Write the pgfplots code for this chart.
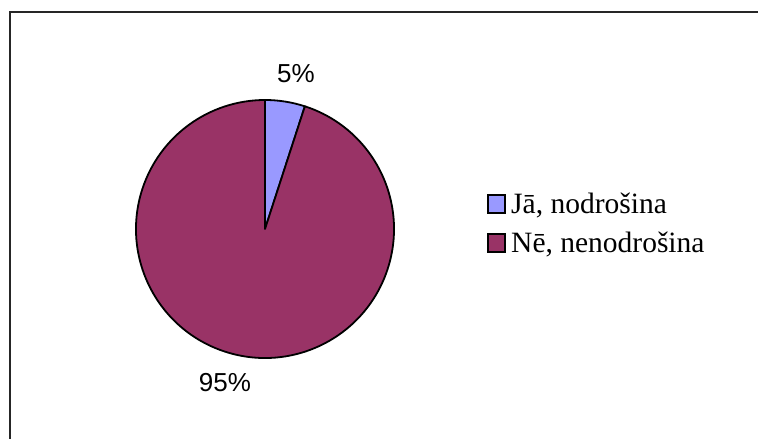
\documentclass[border=0pt]{standalone}
\usepackage{pgfplots}
\usepackage{pgfplotstable}
\pgfplotsset{compat=1.18}
\usepackage{fontspec}
\setmainfont{Liberation Serif}
\newfontfamily\arial{Liberation Sans}

\definecolor{jaclr}{HTML}{9999FF}
\definecolor{neclr}{HTML}{993366}

\pgfplotstableread{
label value
ja 5
ne 95
}\piedata

\begin{document}
\begin{tikzpicture}
\useasboundingbox (0,0) rectangle (758pt,439pt);
\pgfplotstablegetelem{0}{value}\of\piedata \let\vja\pgfplotsretval
\pgfplotstablegetelem{1}{value}\of\piedata \let\vne\pgfplotsretval
\pgfmathsetmacro{\aend}{90-3.6*\vja}
\pgfmathsetmacro{\bend}{\aend-3.6*\vne}
\begin{axis}[
    x=1pt, y=1pt,
    xmin=0, xmax=758, ymin=0, ymax=439,
    hide axis, clip=false, disabledatascaling
]
% frame
\draw[line width=1.6pt, black!85] (axis cs:10,0) -- (axis cs:10,427) -- (axis cs:758,427);
% pie
\filldraw[fill=jaclr, draw=black, line width=1.8pt, line join=round]
    (axis cs:265,210) -- ++(90:129pt) arc[start angle=90, end angle=\aend, radius=129pt] -- cycle;
\filldraw[fill=neclr, draw=black, line width=1.8pt, line join=round]
    (axis cs:265,210) -- ++(\aend:129pt) arc[start angle=\aend, end angle=\bend, radius=129pt] -- cycle;
% labels
\node[font=\arial\fontsize{26}{30}\selectfont, anchor=base] at (axis cs:296,356) {5\%};
\node[font=\arial\fontsize{26}{30}\selectfont, anchor=base] at (axis cs:225,47) {95\%};
% legend
\filldraw[fill=jaclr, draw=black, line width=1.5pt] (axis cs:488,226) rectangle (axis cs:505,244);
\filldraw[fill=neclr, draw=black, line width=1.5pt] (axis cs:488,187) rectangle (axis cs:505,205);
\node[font=\fontsize{29.5}{34}\selectfont, anchor=base west, inner sep=0pt] at (axis cs:511,225) {Jā, nodrošina};
\node[font=\fontsize{29.5}{34}\selectfont, anchor=base west, inner sep=0pt] at (axis cs:511,186) {Nē, nenodrošina};
\end{axis}
\end{tikzpicture}
\end{document}
